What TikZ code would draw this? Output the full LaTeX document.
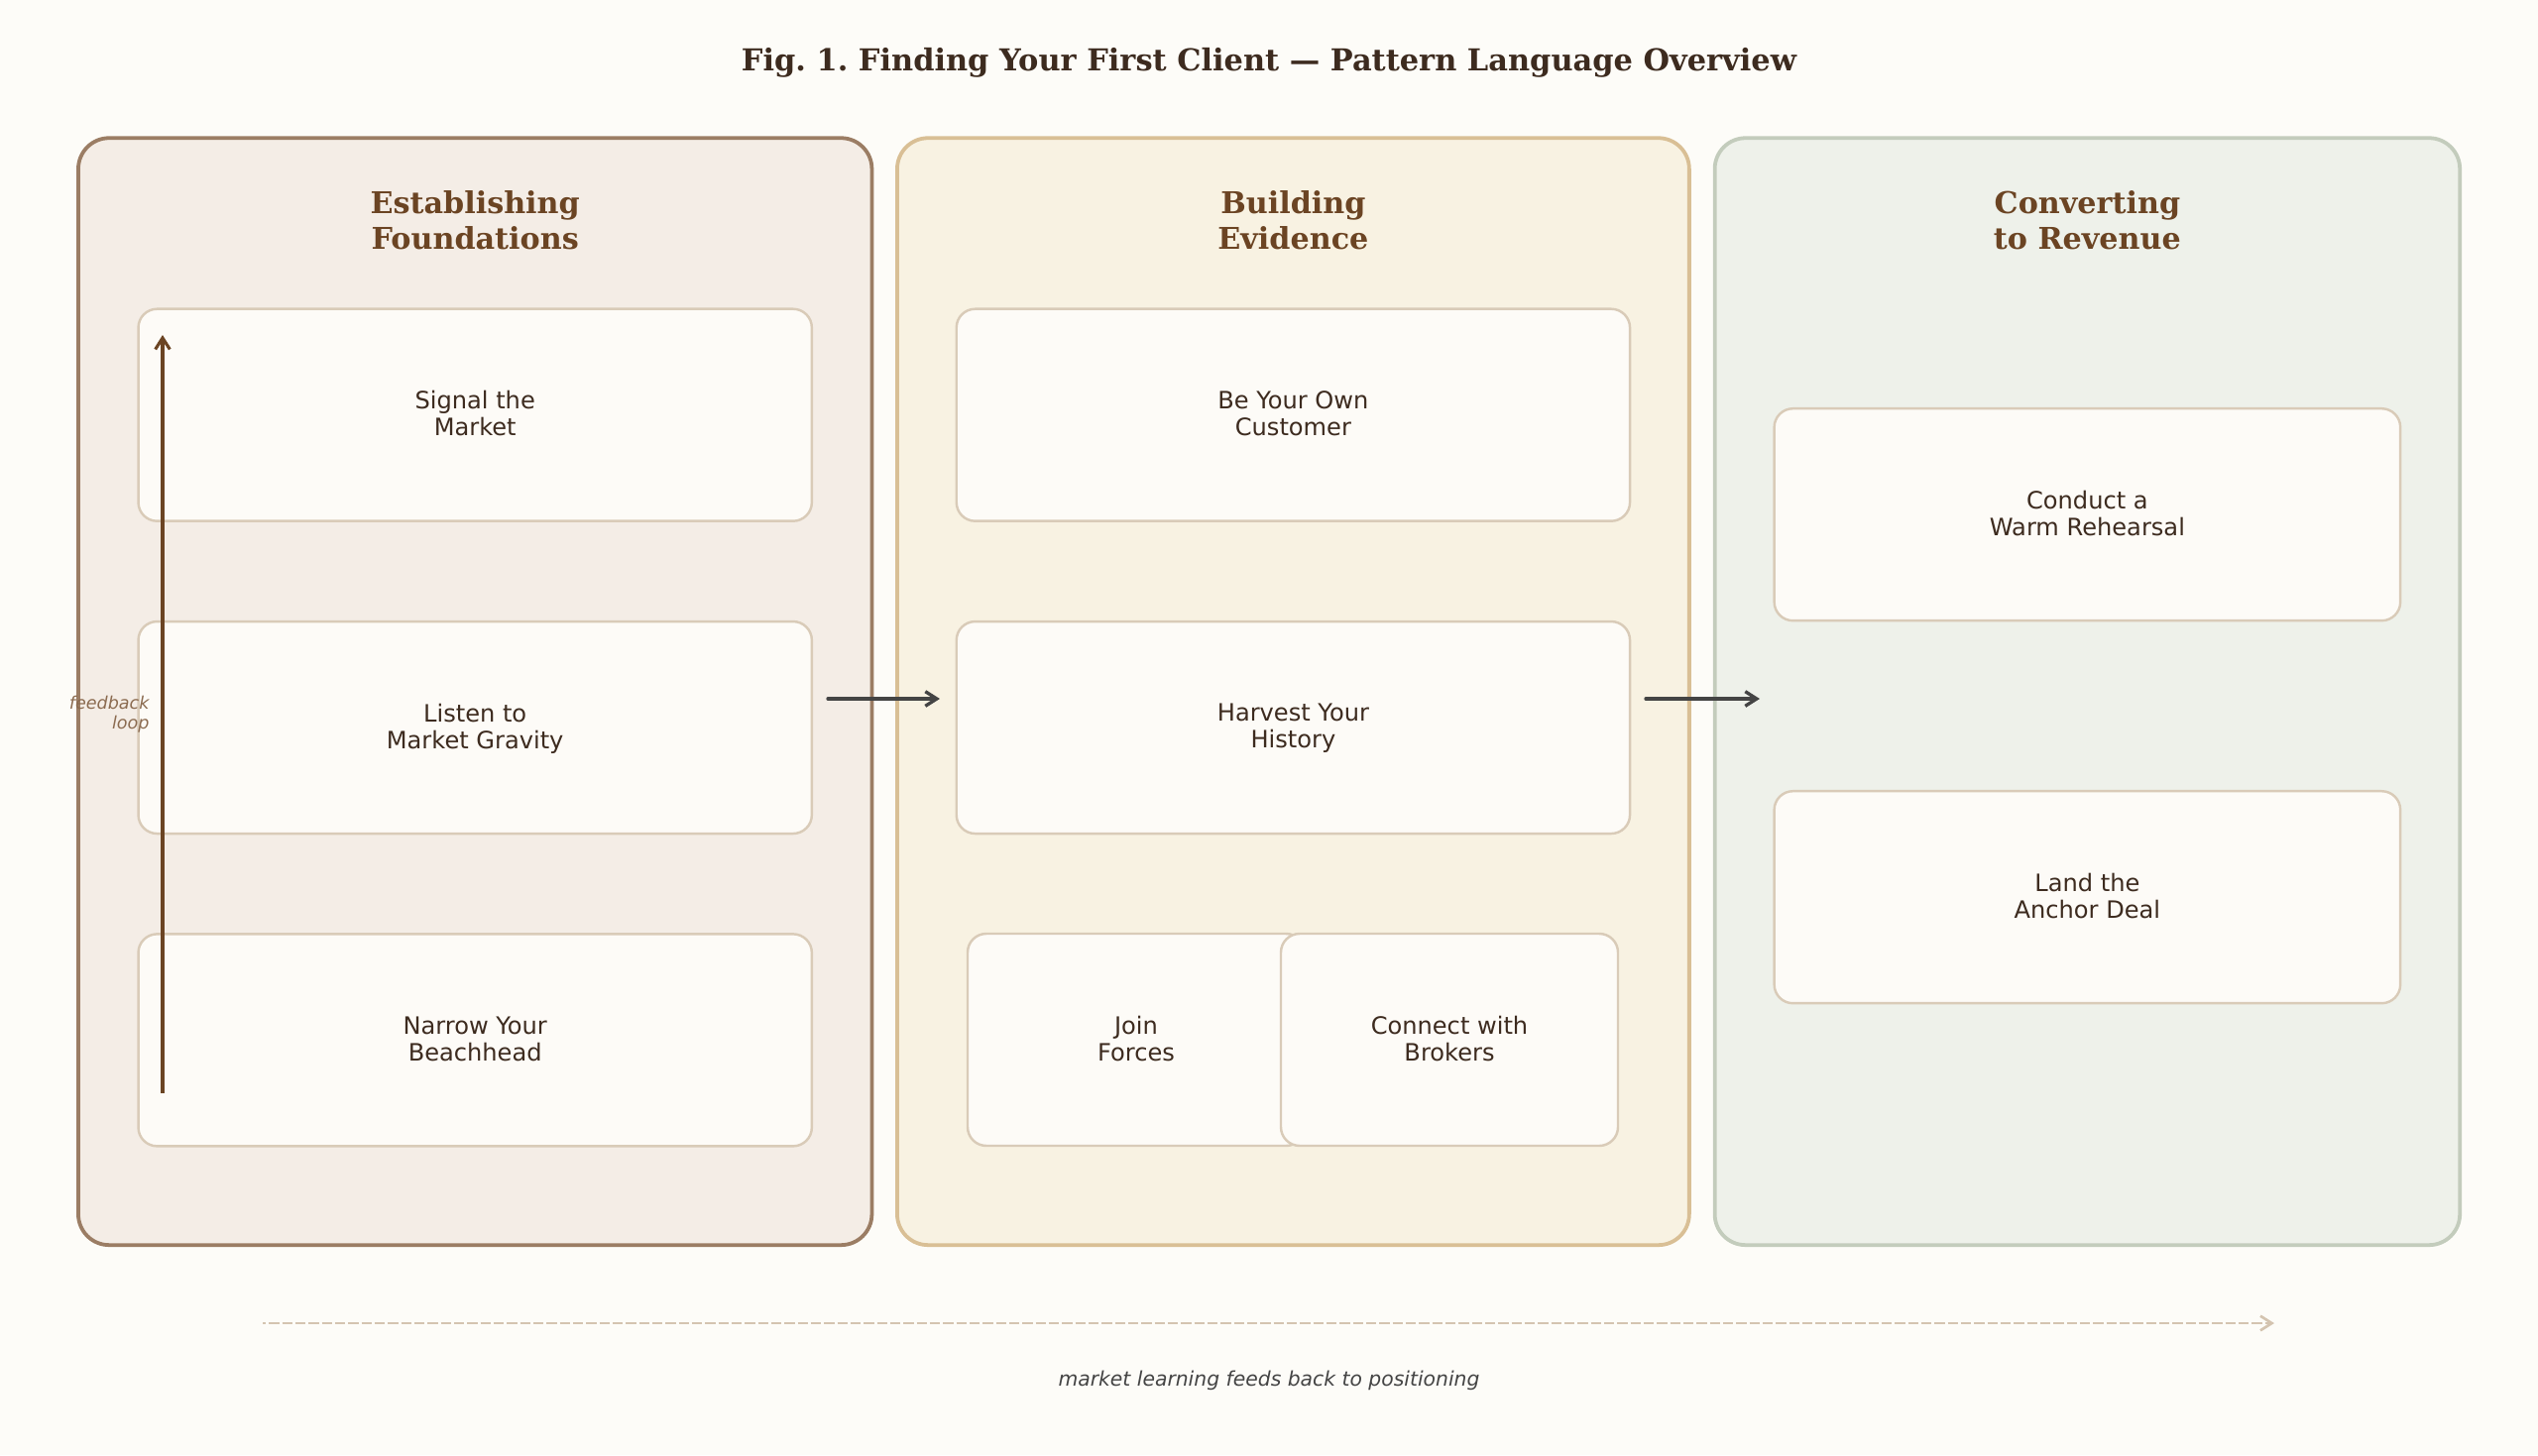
\documentclass[tikz,border=0pt]{standalone}
\usepackage{fontspec}
\setmainfont{DejaVu Sans}
\newfontfamily\headfont{DejaVu Serif}
\usetikzlibrary{arrows.meta}
\definecolor{bgcream}{HTML}{FDFCF8}
\definecolor{inkbrown}{HTML}{3D2B1F}
\definecolor{headbrown}{HTML}{6B4423}
\definecolor{flowgray}{HTML}{444444}
\definecolor{boxedge}{HTML}{D9CBB8}
\definecolor{learnedge}{HTML}{D4C4B0}
\definecolor{boxfill}{HTML}{FDFBF7}
\frenchspacing
\begin{document}
\begin{tikzpicture}[x=0.45pt,y=-0.45pt,>={Straight Barb[length=5.2pt,width=6.6pt]},
                    line join=round]
  \tikzstyle{panel}=[rectangle,rounded corners=14pt,line width=1.7pt,minimum height=502.6pt]
  \tikzstyle{pattern}=[rectangle,rounded corners=8.5pt,draw=boxedge,fill=boxfill,line width=1.1pt,
                       text=inkbrown,align=center,minimum height=96.3pt,text depth=1.3pt,
                       font=\fontsize{10.85}{12.1}\selectfont]
  \tikzstyle{wide}=[pattern,minimum width=305.7pt,node distance=141.9pt]
  \tikzstyle{half}=[pattern,minimum width=153pt,node distance=142.2pt]
  \tikzstyle{tall}=[pattern,minimum width=284.2pt,node distance=173.7pt]
  \tikzstyle{heading}=[text=headbrown,align=center,
                       font=\headfont\bfseries\fontsize{13.6}{16.2}\selectfont]

  \useasboundingbox (0,0) rectangle (2560,1468);
  \fill[bgcream] (0,0) rectangle (2560,1468);

  \node[panel,draw={rgb,255:red,155;green,125;blue,100},fill={rgb,255:red,244;green,237;blue,230},minimum width=360.2pt] (found) at (479.2,697.7) {};
  \node[panel,draw={rgb,255:red,217;green,191;blue,149},fill={rgb,255:red,248;green,242;blue,226},minimum width=359.5pt] (evid) at (1304.4,697.7) {};
  \node[panel,draw={rgb,255:red,195;green,204;blue,188},fill={rgb,255:red,238;green,241;blue,234},minimum width=338.2pt] (rev) at (2105.4,697.7) {};

  \node[heading] (foundhead) at (479.2,222) {Establishing\\Foundations};
  \node[heading] (evidhead)  at (1304.4,222) {Building\\Evidence};
  \node[heading] (revhead)   at (2105.4,222) {Converting\\to Revenue};

  \node[wide] (signal)  at (479.2,418.7)  {Signal the\\Market};
  \node[wide] (listen)  [below of=signal] {Listen to\\Market Gravity};
  \node[wide] (narrow)  [below of=listen] {Narrow Your\\Beachhead};

  \node[wide] (own)     at (1304.4,418.7) {Be Your Own\\Customer};
  \node[wide] (harvest) [below of=own]    {Harvest Your\\History};
  \node[half] (join)    at (1146,1049)    {Join\\Forces};
  \node[half] (brokers) [right of=join]   {Connect with\\Brokers};

  \node[tall] (warm)    at (2105.4,519.2) {Conduct a\\Warm Rehearsal};
  \node[tall] (anchor)  [below of=warm]   {Land the\\Anchor Deal};

  \coordinate (flowAin)   at (835,705);
  \coordinate (flowAout)  at (948,705);
  \coordinate (flowBin)   at (1660,705);
  \coordinate (flowBout)  at (1775,705);
  \coordinate (loopin)    at (164,1103);
  \coordinate (loopout)   at (164,338);
  \coordinate (learnin)   at (265,1335);
  \coordinate (learnout)  at (2294,1335);

  \path
(flowAin) edge [->,draw=flowgray,line width=1.5pt,line cap=round] (flowAout)
(flowBin) edge [->,draw=flowgray,line width=1.5pt,line cap=round] (flowBout)
(loopin)  edge [->,draw=headbrown,line width=1.4pt] (loopout)
(learnin) edge [->,draw=learnedge,line width=1.2pt,dash pattern=on 4.7pt off 1.3pt,dash phase=3.2pt] (learnout);

  \node[text=inkbrown,font=\headfont\bfseries\fontsize{13.7}{15}\selectfont] (title) at (1280,63)
    {Fig. 1. Finding Your First Client — Pattern Language Overview};
  \node[anchor=east,inner sep=0pt,align=right,text={rgb,255:red,139;green,107;blue,80},
        font=\itshape\fontsize{7.9}{9}\selectfont] (looplabel) at (151,721) {feedback\\loop};
  \node[text=flowgray,font=\itshape\fontsize{9.15}{11}\selectfont] (learnlabel) at (1280,1392.5)
    {market learning feeds back to positioning};
\end{tikzpicture}
\end{document}
